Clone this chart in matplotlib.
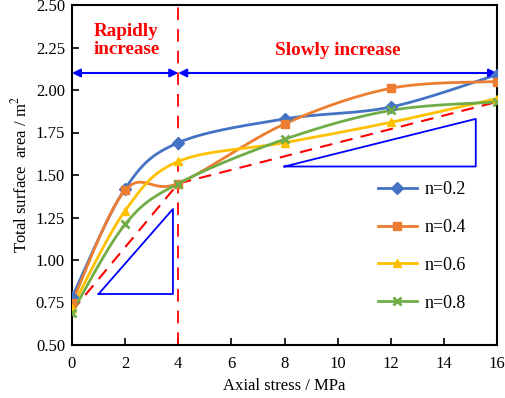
import numpy as np
import matplotlib
matplotlib.use('Agg')
import matplotlib.pyplot as plt
from matplotlib import rcParams

rcParams['font.family'] = ['Liberation Serif', 'DejaVu Serif']
rcParams['mathtext.fontset'] = 'stix'

# 数据
stress = [0, 2, 4, 8, 12, 16]
labels = ['n=0.2', 'n=0.4', 'n=0.6', 'n=0.8']
area_02 = [0.78, 1.42, 1.69, 1.83, 1.90, 2.09]
area_04 = [0.75, 1.41, 1.45, 1.80, 2.01, 2.05]
area_06 = [0.72, 1.29, 1.58, 1.69, 1.81, 1.95]
area_08 = [0.69, 1.21, 1.45, 1.71, 1.88, 1.93]
series = [area_02, area_04, area_06, area_08]

colors = ['#4472C4', '#ED7D31', '#FFC000', '#70AD47']
markers = ['D', 's', '^', 'x']

# 趋势线 / 分区
trend_x = [0, 4, 16]
trend_y = [0.70, 1.45, 1.93]
split_x = 4
arrow_y = 2.10
tri_small_x = [1, 3.8, 3.8, 1]
tri_small_y = [0.80, 0.80, 1.30, 0.80]
tri_big_x = [8, 15.2, 15.2, 8]
tri_big_y = [1.55, 1.55, 1.83, 1.55]


def smooth(x, y, n=30):
    """Excel风格平滑曲线 (Bezier)"""
    p = np.column_stack([x, y]).astype(float)
    out = []
    for i in range(len(p) - 1):
        p0 = p[i - 1] if i > 0 else p[i]
        p1, p2 = p[i], p[i + 1]
        p3 = p[i + 2] if i + 2 < len(p) else p[i + 1]
        c1 = p1 + (p2 - p0) / 6
        c2 = p2 - (p3 - p1) / 6
        t = np.linspace(0, 1, n)[:, None]
        seg = ((1 - t) ** 3) * p1 + 3 * ((1 - t) ** 2) * t * c1 + 3 * (1 - t) * t ** 2 * c2 + t ** 3 * p2
        out.append(seg if i == 0 else seg[1:])
    seg = np.vstack(out)
    return seg[:, 0], seg[:, 1]


fig = plt.figure(figsize=(5.05, 3.98), dpi=100)
ax = fig.add_axes([72 / 505, 53 / 398, 425 / 505, 340 / 398])

ax.plot(trend_x, trend_y, color='red', ls=(0, (6, 4)), lw=1.5, zorder=2)
ax.axvline(split_x, color='red', ls=(0, (7, 5)), lw=1.3, zorder=2)

ax.plot(tri_small_x, tri_small_y, color='blue', lw=1.3, zorder=2)
ax.plot(tri_big_x, tri_big_y, color='blue', lw=1.3, zorder=2)

for ys, c, m, lab in zip(series, colors, markers, labels):
    sx, sy = smooth(stress, ys)
    ax.plot(sx, sy, color=c, lw=2, zorder=3)
    if m == 'x':
        ax.plot(stress, ys, ls='none', marker=m, color=c, ms=6, mew=2, zorder=4)
    else:
        ax.plot(stress, ys, ls='none', marker=m, color=c, ms=6, zorder=4)
    ax.plot([], [], color=c, lw=2, marker=m, ms=6, mew=2 if m == 'x' else 1, label=lab)

arrow_kw = dict(arrowstyle='<|-|>', color='blue', lw=1.5, mutation_scale=12, shrinkA=0, shrinkB=0)
ax.annotate('', xy=(0, arrow_y), xytext=(split_x, arrow_y), arrowprops=arrow_kw)
ax.annotate('', xy=(split_x, arrow_y), xytext=(16, arrow_y), arrowprops=arrow_kw)

ax.text(2.05, 2.29, 'Rapidly\nincrease', color='red', fontsize=13.8, fontweight='bold',
        ha='center', va='center', linespacing=1.1)
ax.text(10.0, 2.235, 'Slowly increase', color='red', fontsize=13.8, fontweight='bold',
        ha='center', va='center')

ax.set_xlim(0, 16)
ax.set_ylim(0.5, 2.5)
ax.set_xticks(range(0, 17, 2))
ax.set_yticks(np.arange(0.5, 2.51, 0.25))
ax.yaxis.set_major_formatter(matplotlib.ticker.FormatStrFormatter('%.2f'))
ax.tick_params(direction='in', labelsize=12, length=5, width=1.2, pad=8)
ax.tick_params(axis='y', pad=5)
for s in ax.spines.values():
    s.set_linewidth(1.5)

ax.set_xlabel('Axial stress / MPa', fontsize=12)
ax.set_ylabel('Total surface  area / m$^2$', fontsize=12)

ax.legend(loc='center right', bbox_to_anchor=(0.965, 0.29), frameon=False, fontsize=13,
          labelspacing=1.15, handlelength=2.2, handletextpad=0.4)

fig.savefig('out.png', dpi=100)
